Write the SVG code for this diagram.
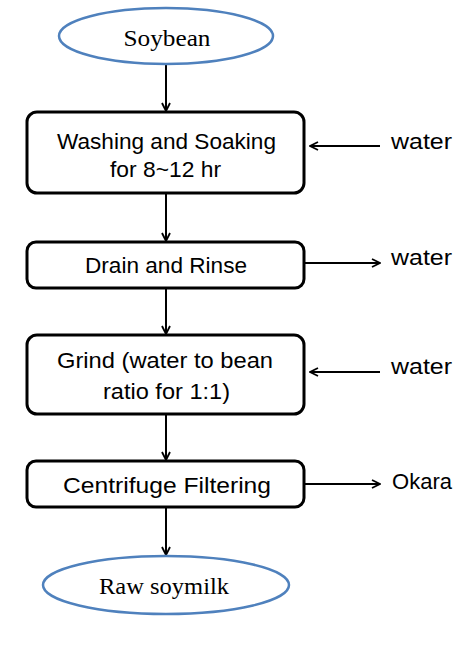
<svg xmlns="http://www.w3.org/2000/svg" width="463" height="657" viewBox="0 0 463 657">
<style>
.ell{fill:#fff;stroke:#4F81BD;stroke-width:2.5}
.box{fill:#fff;stroke:#000;stroke-width:3}
.t{font-family:"Liberation Sans",Arial,sans-serif;font-size:22px;fill:#000;text-anchor:middle}
.s{font-family:"Liberation Serif","Times New Roman",serif;font-size:24px;fill:#000;text-anchor:middle}
.l{font-family:"Liberation Sans",Arial,sans-serif;font-size:22px;fill:#000}
.c{stroke:#000;stroke-width:2;fill:none;marker-end:url(#ah)}
</style>
<defs>
<marker id="ah" viewBox="0 0 10 10" refX="9" refY="5" markerWidth="10" markerHeight="10" markerUnits="userSpaceOnUse" orient="auto">
<path d="M1,1 L9,5 L1,9" fill="none" stroke="#000" stroke-width="1.8"/>
</marker>
</defs>
<rect width="463" height="657" fill="#fff"/>
<g id="connectors">
<line class="c" x1="166" y1="64" x2="166" y2="111"/>
<line class="c" x1="166" y1="193" x2="166" y2="241"/>
<line class="c" x1="166" y1="288" x2="166" y2="334"/>
<line class="c" x1="166" y1="414" x2="166" y2="460"/>
<line class="c" x1="166" y1="507" x2="166" y2="555"/>
<line class="c" x1="380" y1="146" x2="310" y2="146"/>
<line class="c" x1="305" y1="263" x2="380" y2="263"/>
<line class="c" x1="380" y1="372" x2="310" y2="372"/>
<line class="c" x1="305" y1="484" x2="380" y2="484"/>
</g>
<g id="soybean">
<ellipse class="ell" cx="166" cy="36" rx="107" ry="28"/>
<text class="s" x="167" y="46" textLength="87" lengthAdjust="spacingAndGlyphs">Soybean</text>
</g>
<g id="washing">
<rect class="box" x="27" y="112" width="277" height="81" rx="10"/>
<text class="t" x="166.5" y="149" textLength="219" lengthAdjust="spacingAndGlyphs">Washing and Soaking</text>
<text class="t" x="165.5" y="177" textLength="111" lengthAdjust="spacingAndGlyphs">for 8~12 hr</text>
</g>
<g id="drain">
<rect class="box" x="27" y="242" width="277" height="46" rx="9"/>
<text class="t" x="166" y="273" textLength="162" lengthAdjust="spacingAndGlyphs">Drain and Rinse</text>
</g>
<g id="grind">
<rect class="box" x="27" y="335" width="277" height="79" rx="10"/>
<text class="t" x="165" y="368" textLength="216" lengthAdjust="spacingAndGlyphs">Grind (water to bean</text>
<text class="t" x="166.5" y="399" textLength="127" lengthAdjust="spacingAndGlyphs">ratio for 1:1)</text>
</g>
<g id="centrifuge">
<rect class="box" x="27" y="461" width="277" height="46" rx="9"/>
<text class="t" x="167" y="493" textLength="208" lengthAdjust="spacingAndGlyphs">Centrifuge Filtering</text>
</g>
<g id="rawsoymilk">
<ellipse class="ell" cx="166" cy="585" rx="123" ry="29"/>
<text class="s" x="164" y="594" textLength="130" lengthAdjust="spacingAndGlyphs">Raw soymilk</text>
</g>
<g id="water1"><text class="l" x="391" y="149" textLength="61" lengthAdjust="spacingAndGlyphs">water</text></g>
<g id="water2"><text class="l" x="391" y="265" textLength="61" lengthAdjust="spacingAndGlyphs">water</text></g>
<g id="water3"><text class="l" x="391" y="374" textLength="61" lengthAdjust="spacingAndGlyphs">water</text></g>
<g id="okara"><text class="l" x="392" y="489" textLength="60" lengthAdjust="spacingAndGlyphs">Okara</text></g>
</svg>
